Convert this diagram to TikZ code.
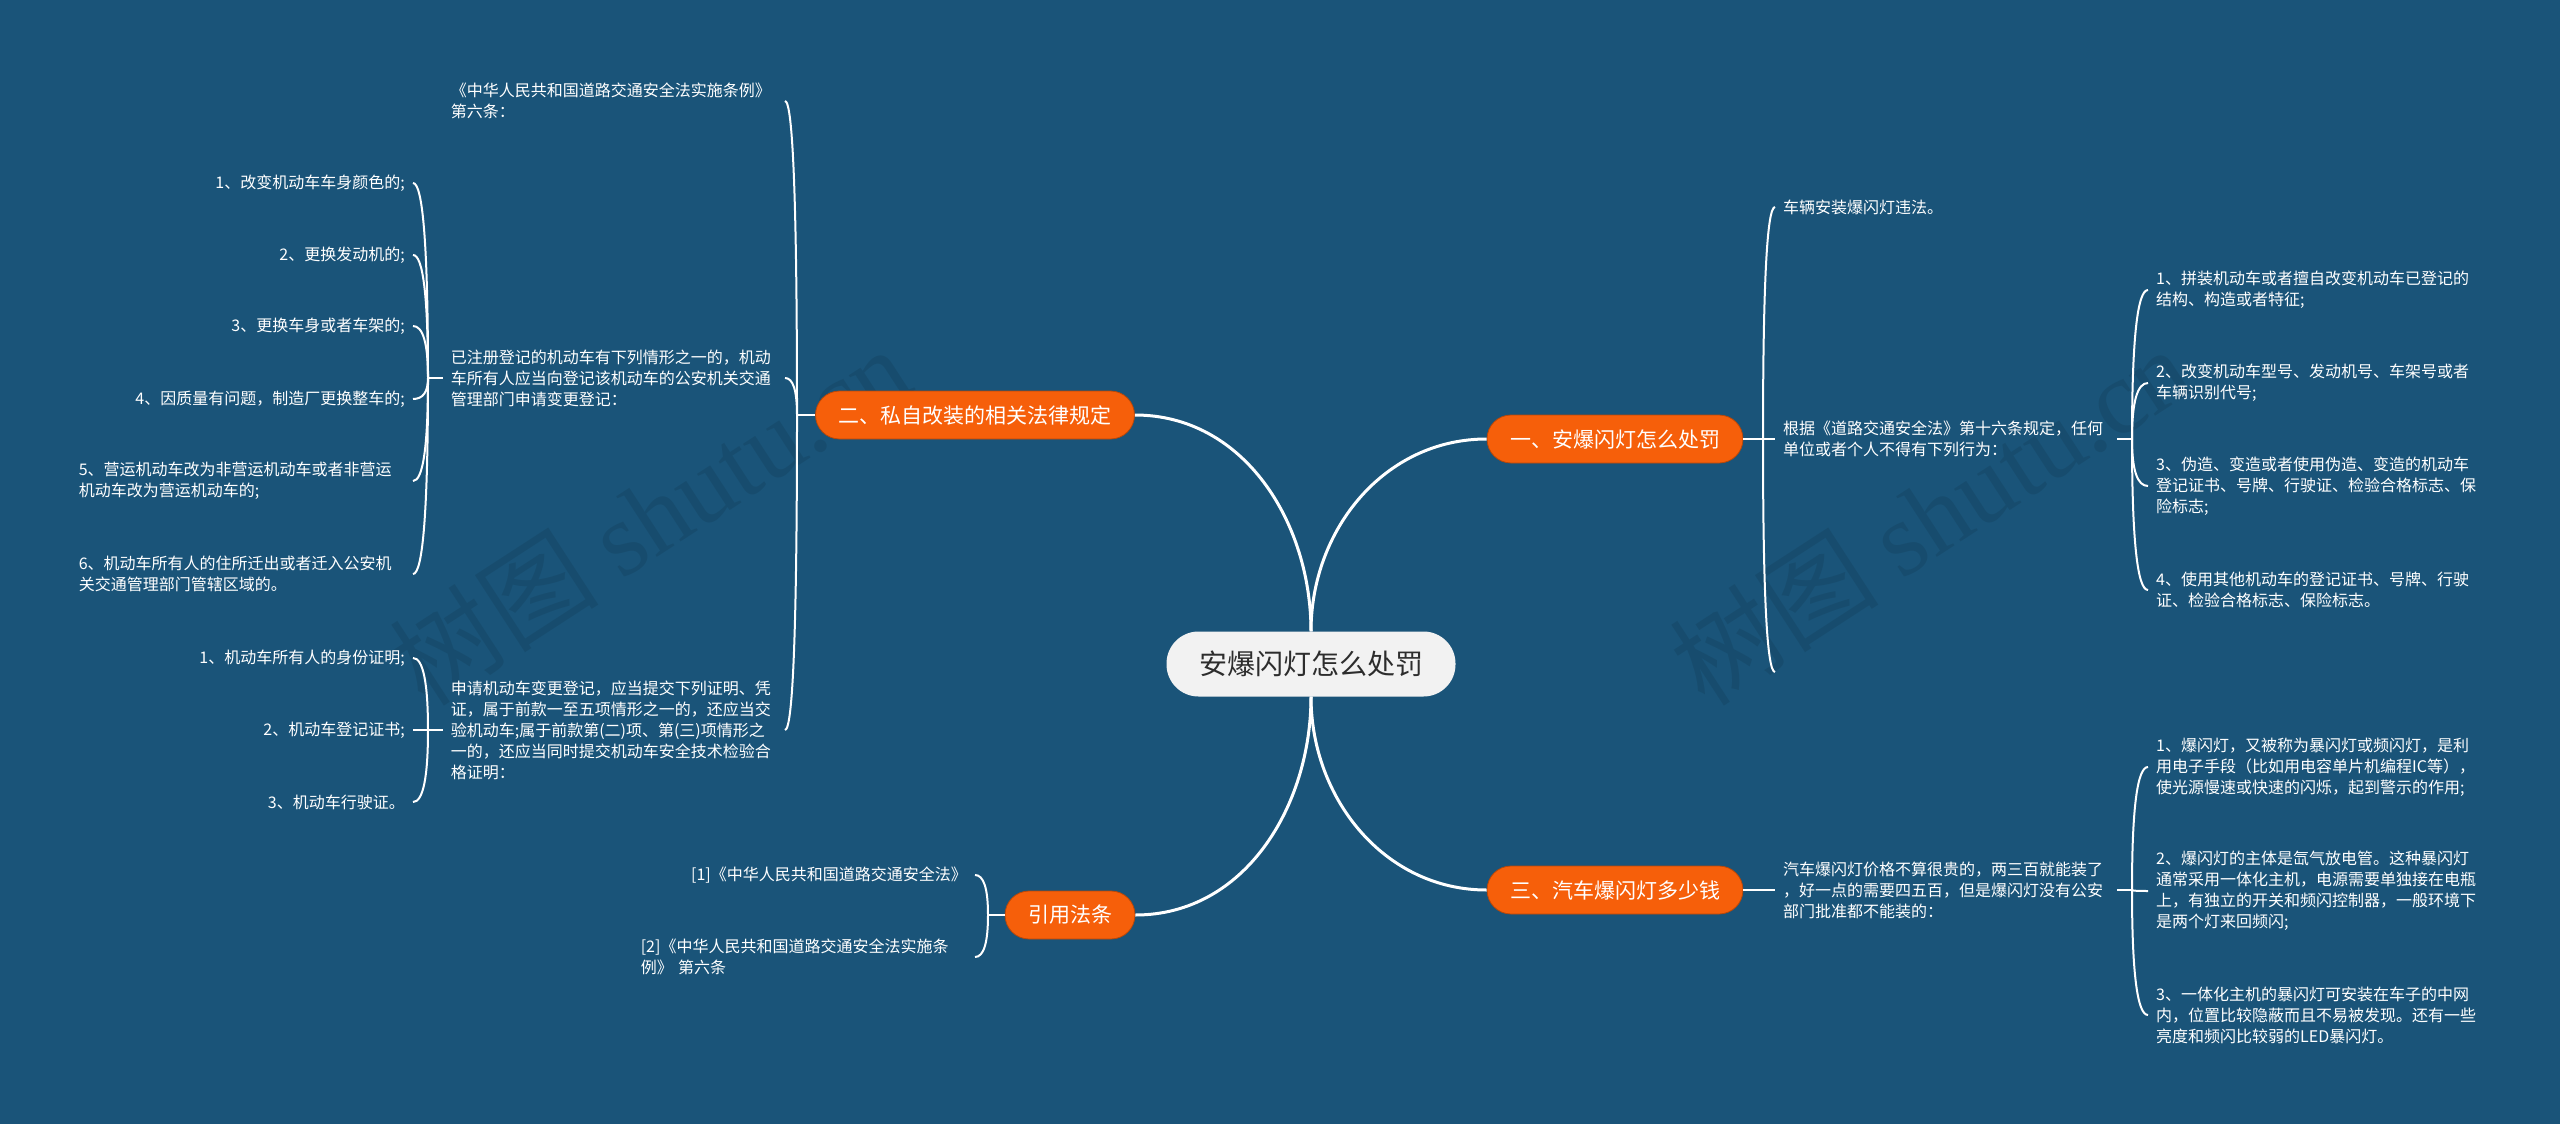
\documentclass[tikz,border=0pt]{standalone}
\usepackage{fontspec}
\setmainfont{Noto Sans CJK SC}
\newfontfamily\wmfont{Liberation Serif}
\usetikzlibrary{calc}
\definecolor{bgblue}{RGB}{26,84,121}
\definecolor{brorange}{RGB}{246,95,10}
\definecolor{rootfill}{RGB}{242,242,242}
\definecolor{roottext}{RGB}{45,45,45}
\newcommand\brkline[2]{\draw[brk] (#1) .. controls ($(#1)!0.667!(#1|-#2)$) and ($(#2)!0.667!(#1|-#2)$) .. (#2);}
\begin{document}
\begin{tikzpicture}[x=1pt,y=1pt,
  rootbox/.style={fill=rootfill, text=roottext, rounded corners=32pt, minimum width=289pt, minimum height=65pt, font=\fontsize{28}{34}\selectfont, inner sep=0pt},
  branchbox/.style={fill=brorange, draw=brorange!75!black, line width=0.8pt, text=white, rounded corners=24pt, minimum height=48pt, inner xsep=23pt, inner ysep=0pt, font=\fontsize{21}{25}\selectfont},
  leaf/.style={text=white, font=\fontsize{16}{21}\selectfont, inner sep=8pt, align=left},
  wide/.style={leaf, text width=326pt},
  mainline/.style={draw=white, line width=3pt},
  brk/.style={draw=white, line width=2pt},
  wmark/.style={text=black, opacity=0.09, rotate=33, font=\fontsize{105}{110}\selectfont},
]
\fill[bgblue] (0,0) rectangle (2560,-1124);
\useasboundingbox (0,0) rectangle (2560,-1124);

% watermarks
\node[wmark] (wm1) at (650,-515) {树图 {\wmfont shutu.cn}};
\node[wmark] (wm2) at (1930,-515) {树图 {\wmfont shutu.cn}};

% root and branches
\node[rootbox] (root) at (1311,-664) {安爆闪灯怎么处罚};
\node[branchbox] (b1) at (1615,-439) {一、安爆闪灯怎么处罚};
\node[branchbox] (b2) at (975,-415) {二、私自改装的相关法律规定};
\node[branchbox] (b3) at (1615,-890) {三、汽车爆闪灯多少钱};
\node[branchbox] (b4) at (1070,-915) {引用法条};

\draw[mainline] (root.north) to[out=90,in=180] (b1.west);
\draw[mainline] (root.north) to[out=90,in=0] (b2.east);
\draw[mainline] (root.south) to[out=-90,in=180] (b3.west);
\draw[mainline] (root.south) to[out=-90,in=0] (b4.east);

% branch 1
\coordinate (jb1) at (1763,-439);
\node[leaf, anchor=west] (a1) at (1775,-207) {车辆安装爆闪灯违法。};
\node[wide, anchor=west] (a2) at (1775,-439) {根据《道路交通安全法》第十六条规定，任何\\单位或者个人不得有下列行为：};
\coordinate (e1) at (1775,-672);
\draw[brk] (b1.east) -- (jb1);
\brkline{jb1}{a1.west}
\draw[brk] (jb1) -- (a2.west);
\brkline{jb1}{e1}

\coordinate (ja2) at (2132,-439);
\draw[brk] (a2.east) -- (ja2);
\node[wide, anchor=west] (g1) at (2148,-290) {1、拼装机动车或者擅自改变机动车已登记的\\结构、构造或者特征;};
\node[wide, anchor=west] (g2) at (2148,-383) {2、改变机动车型号、发动机号、车架号或者\\车辆识别代号;};
\node[wide, anchor=west] (g3) at (2148,-486) {3、伪造、变造或者使用伪造、变造的机动车\\登记证书、号牌、行驶证、检验合格标志、保\\险标志;};
\node[wide, anchor=west] (g4) at (2148,-590) {4、使用其他机动车的登记证书、号牌、行驶\\证、检验合格标志、保险标志。};
\brkline{ja2}{g1.west}
\brkline{ja2}{g2.west}
\brkline{ja2}{g3.west}
\brkline{ja2}{g4.west}

% branch 3
\node[wide, anchor=west] (c1) at (1775,-890) {汽车爆闪灯价格不算很贵的，两三百就能装了\\，好一点的需要四五百，但是爆闪灯没有公安\\部门批准都不能装的：};
\draw[brk] (b3.east) -- (c1.west);
\coordinate (jc1) at (2132,-890);
\draw[brk] (c1.east) -- (jc1);
\node[wide, anchor=west] (h1) at (2148,-767) {1、爆闪灯，又被称为暴闪灯或频闪灯，是利\\用电子手段（比如用电容单片机编程IC等），\\使光源慢速或快速的闪烁，起到警示的作用;};
\node[wide, anchor=west] (h2) at (2148,-891) {2、爆闪灯的主体是氙气放电管。这种暴闪灯\\通常采用一体化主机，电源需要单独接在电瓶\\上，有独立的开关和频闪控制器，一般环境下\\是两个灯来回频闪;};
\node[wide, anchor=west] (h3) at (2148,-1015) {3、一体化主机的暴闪灯可安装在车子的中网\\内，位置比较隐蔽而且不易被发现。还有一些\\亮度和频闪比较弱的LED暴闪灯。};
\brkline{jc1}{h1.west}
\brkline{jc1}{h2.west}
\brkline{jc1}{h3.west}

% branch 2
\coordinate (jb2) at (797,-415);
\draw[brk] (b2.west) -- (jb2);
\node[wide, anchor=east] (l1) at (785,-101) {《中华人民共和国道路交通安全法实施条例》\\第六条：};
\node[wide, anchor=east] (l2) at (785,-378) {已注册登记的机动车有下列情形之一的，机动\\车所有人应当向登记该机动车的公安机关交通\\管理部门申请变更登记：};
\node[wide, anchor=east] (l3) at (785,-730) {申请机动车变更登记，应当提交下列证明、凭\\证，属于前款一至五项情形之一的，还应当交\\验机动车;属于前款第(二)项、第(三)项情形之\\一的，还应当同时提交机动车安全技术检验合\\格证明：};
\brkline{jb2}{l1.east}
\brkline{jb2}{l2.east}
\brkline{jb2}{l3.east}

\coordinate (jl2) at (428,-378);
\draw[brk] (l2.west) -- (jl2);
\node[leaf, anchor=east] (n1) at (413,-183) {1、改变机动车车身颜色的;};
\node[leaf, anchor=east] (n2) at (413,-255) {2、更换发动机的;};
\node[leaf, anchor=east] (n3) at (413,-326) {3、更换车身或者车架的;};
\node[leaf, anchor=east] (n4) at (413,-399) {4、因质量有问题，制造厂更换整车的;};
\node[wide, anchor=east] (n5) at (413,-481) {5、营运机动车改为非营运机动车或者非营运\\机动车改为营运机动车的;};
\node[wide, anchor=east] (n6) at (413,-574) {6、机动车所有人的住所迁出或者迁入公安机\\关交通管理部门管辖区域的。};
\brkline{jl2}{n1.east}
\brkline{jl2}{n2.east}
\brkline{jl2}{n3.east}
\brkline{jl2}{n4.east}
\brkline{jl2}{n5.east}
\brkline{jl2}{n6.east}

\coordinate (jl3) at (428,-730);
\draw[brk] (l3.west) -- (jl3);
\node[leaf, anchor=east] (m1) at (413,-658) {1、机动车所有人的身份证明;};
\node[leaf, anchor=east] (m2) at (413,-730) {2、机动车登记证书;};
\node[leaf, anchor=east] (m3) at (413,-802) {3、机动车行驶证。};
\brkline{jl3}{m1.east}
\draw[brk] (jl3) -- (m2.east);
\brkline{jl3}{m3.east}

% citations
\coordinate (jb4) at (988,-915);
\draw[brk] (b4.west) -- (jb4);
\node[leaf, anchor=east] (r1) at (975,-875) {[1]《中华人民共和国道路交通安全法》};
\node[wide, anchor=east] (r2) at (975,-957) {[2]《中华人民共和国道路交通安全法实施条\\例》 第六条};
\brkline{jb4}{r1.east}
\brkline{jb4}{r2.east}
\end{tikzpicture}
\end{document}
